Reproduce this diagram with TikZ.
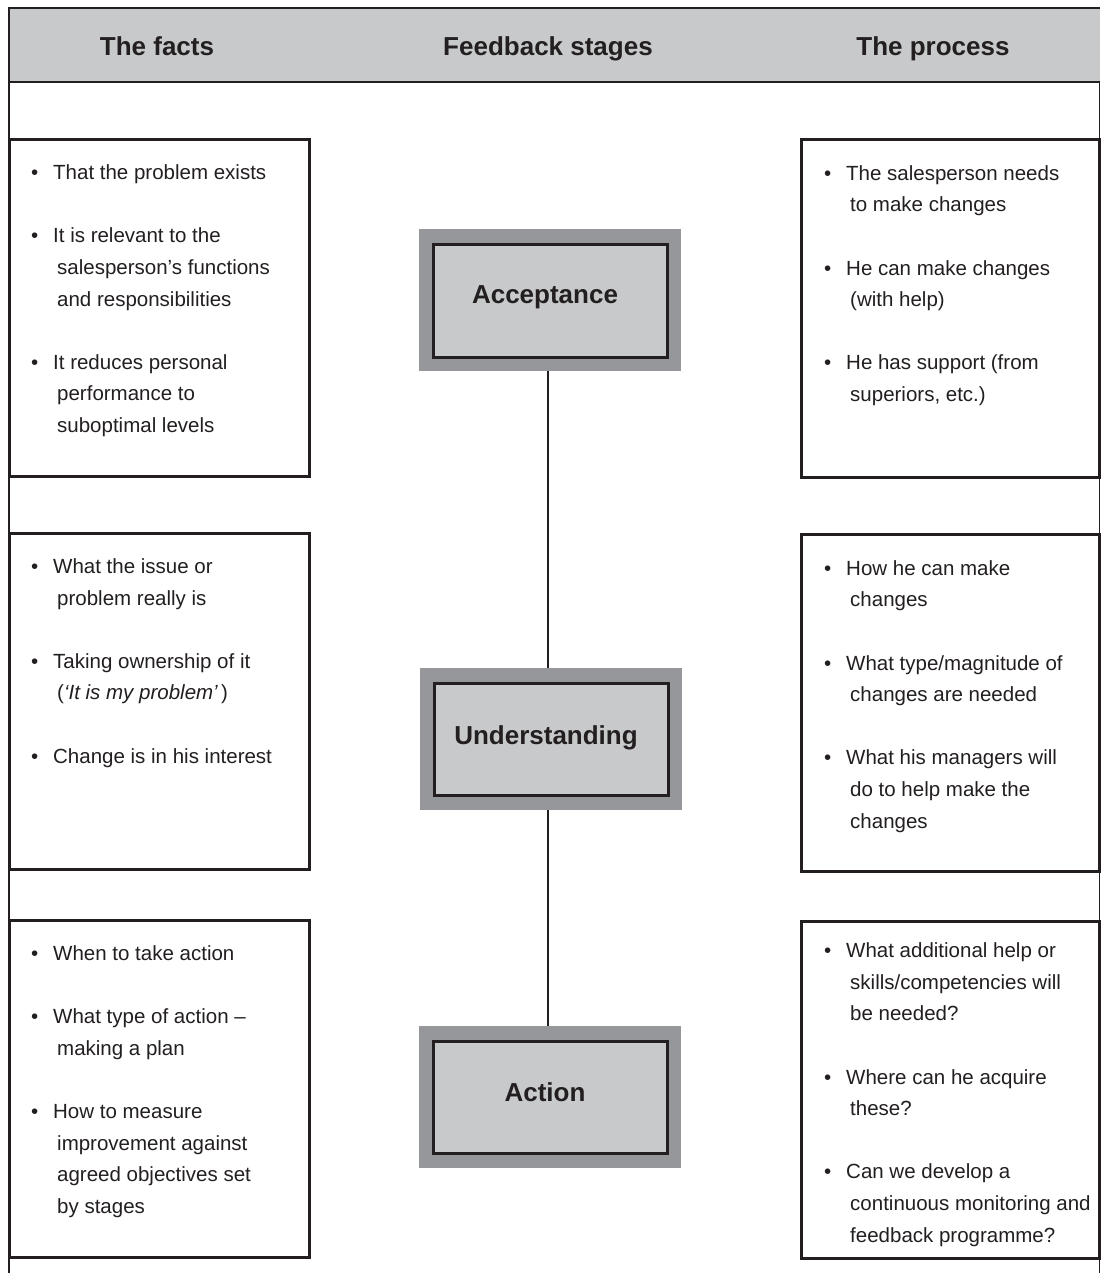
\documentclass[tikz,border=0pt]{standalone}
\usepackage{fontspec}
\setmainfont{Liberation Sans}
\definecolor{ink}{HTML}{231F20}
\definecolor{panel}{HTML}{C8C9CB}
\definecolor{rim}{HTML}{96979A}
\newcommand\bitem{\makebox[22pt][l]{\textbullet}}
\newcommand\contl{\hspace*{26pt}}
\newcommand\gap{\\[31.6pt]}
\begin{document}
\begin{tikzpicture}[x=1pt,y=-1pt,
  frameline/.style={draw=ink,line width=2.8pt},
  boxline/.style={draw=ink,line width=3pt},
  headtext/.style={font=\fontsize{26}{30}\selectfont\bfseries,text=ink,inner sep=0pt,anchor=base},
  % multi-line text is anchored at the baseline of its last line
  bodytext/.style={font=\fontsize{20.5}{31.6}\selectfont,text=ink,align=left,anchor=base west,inner sep=0pt},
  stageouter/.style={fill=rim,minimum width=262pt,minimum height=142pt,inner sep=0pt},
  stageinner/.style={fill=panel,draw=ink,line width=3pt,minimum width=234pt,minimum height=112pt,inner sep=0pt},
  stagelabel/.style={font=\fontsize{26}{30}\selectfont\bfseries,text=ink,inner sep=0pt,anchor=base},
  link/.style={draw=ink,line width=2.6pt}]
\useasboundingbox (0,0) rectangle (1100,1273);
\fill[white] (0,0) rectangle (1100,1273);

% header band and outer frame
\fill[panel] (9,8) rectangle (1100,82);
\draw[frameline] (9,1273) -- (9,8) -- (1100,8);
\draw[frameline] (9,82) -- (1100,82);
\draw[draw=ink,line width=1.4pt] (1099.3,82) -- (1099.3,1273);

\node[headtext] (hfacts) at (157,56) {The facts};
\node[headtext] (hstages) at (548,56) {Feedback stages};
\node[headtext] (hprocess) at (933,56) {The process};

% fact boxes (left)
\draw[boxline] (9,140) rectangle (309,476);
\draw[boxline] (9,533) rectangle (309,869);
\draw[boxline] (9,920) rectangle (309,1257);

% process boxes (right)
\draw[boxline] (801,140) rectangle (1099,477);
\draw[boxline] (801,534) rectangle (1099,871);
\draw[boxline] (801,921) rectangle (1099,1258);

% stage boxes
\node[stageouter] (accO) at (550,300) {};
\node[stageinner] (acc) at (550,301) {};
\node[stagelabel] (accT) at (545,303.5) {Acceptance};

\node[stageouter] (undO) at (551,739) {};
\node[stageinner] (und) at (551,739) {};
\node[stagelabel] (undT) at (546,744) {Understanding};

\node[stageouter] (actO) at (550,1097) {};
\node[stageinner] (act) at (550,1097.5) {};
\node[stagelabel] (actT) at (545,1101.5) {Action};

\draw[link] ([xshift=-2pt]accO.south) -- ([xshift=-3pt]undO.north);
\draw[link] ([xshift=-3pt]undO.south) -- ([xshift=-2pt]actO.north);

% facts
\node[bodytext] (f1) at (31,432.5) {\bitem That the problem exists\gap
\bitem It is relevant to the\\
\contl salesperson's functions\\
\contl and responsibilities\gap
\bitem It reduces personal\\
\contl performance to\\
\contl suboptimal levels};

\node[bodytext] (f2) at (31,763) {\bitem What the issue or\\
\contl problem really is\gap
\bitem Taking ownership of it\\
\contl ({\itshape `It is my problem'}\,)\gap
\bitem Change is in his interest};

\node[bodytext] (f3) at (31,1213.5) {\bitem When to take action\gap
\bitem What type of action --\\
\contl making a plan\gap
\bitem How to measure\\
\contl improvement against\\
\contl agreed objectives set\\
\contl by stages};

% process
\node[bodytext] (p1) at (824,401.5) {\bitem The salesperson needs\\
\contl to make changes\gap
\bitem He can make changes\\
\contl (with help)\gap
\bitem He has support (from\\
\contl superiors, etc.)};

\node[bodytext] (p2) at (824,828) {\bitem How he can make\\
\contl changes\gap
\bitem What type/magnitude of\\
\contl changes are needed\gap
\bitem What his managers will\\
\contl do to help make the\\
\contl changes};

\node[bodytext] (p3) at (824,1242) {\bitem What additional help or\\
\contl skills/competencies will\\
\contl be needed?\gap
\bitem Where can he acquire\\
\contl these?\gap
\bitem Can we develop a\\
\contl continuous monitoring and\\
\contl feedback programme?};
\end{tikzpicture}
\end{document}
